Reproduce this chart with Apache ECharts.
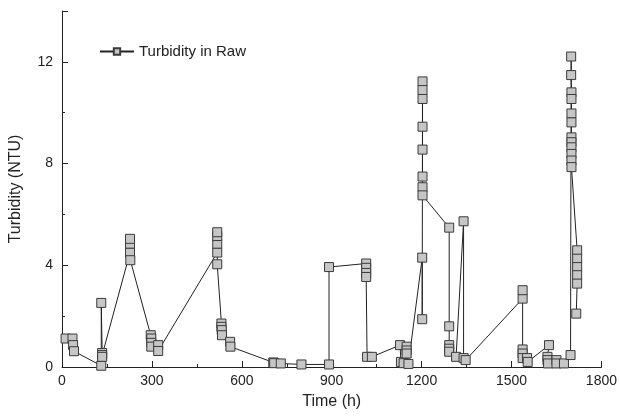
<!DOCTYPE html>
<html>
<head>
<meta charset="utf-8">
<script src="https://cdn.jsdelivr.net/npm/echarts@6/dist/echarts.min.js"></script>
<style>
  html, body { margin: 0; padding: 0; background: #fff; }
  #main { width: 620px; height: 418px; }
</style>
</head>
<body>
<div id="main"></div>
<script>
// time (h) and turbidity (NTU), in measurement order
var hours = [
  12, 35, 37, 40, 131, 131, 134, 134, 134,
  227, 227, 227, 228,
  296, 298, 298, 298, 321, 321,
  518, 518, 518, 518, 518,
  532, 532, 533, 534, 561, 562,
  705, 708, 730, 799, 891, 891,
  1015, 1015, 1015, 1015, 1018, 1034,
  1128, 1131, 1140, 1150, 1150, 1150, 1156,
  1202, 1202, 1203, 1203, 1203, 1203, 1203, 1203, 1203, 1203,
  1292, 1292, 1292, 1292, 1292, 1315, 1340, 1340, 1347,
  1537, 1537, 1537, 1537, 1537, 1552, 1554,
  1625, 1620, 1620, 1622, 1650, 1650, 1675, 1697,
  1699, 1699, 1700, 1700, 1700, 1700, 1700, 1700, 1700, 1700, 1700, 1700,
  1719, 1719, 1719, 1719, 1719, 1716
];
var turbidity = [
  1.12, 1.12, 0.86, 0.62, 0.05, 2.52, 0.55, 0.47, 0.40,
  4.50, 4.85, 5.04, 4.20,
  1.25, 1.12, 0.95, 0.80, 0.86, 0.63,
  4.50, 4.85, 5.15, 5.30, 4.04,
  1.71, 1.58, 1.45, 1.25, 0.99, 0.80,
  0.18, 0.15, 0.14, 0.10, 0.10, 3.93,
  4.07, 3.90, 3.70, 3.54, 0.40, 0.40,
  0.86, 0.20, 0.15, 0.80, 0.65, 0.53, 0.12,
  4.30, 1.88, 11.23, 10.89, 10.54, 9.45, 8.55, 7.49, 7.07, 6.75,
  5.48, 1.60, 0.86, 0.72, 0.60, 0.40, 5.73, 0.35, 0.27,
  2.69, 3.02, 0.69, 0.53, 0.35, 0.35, 0.20,
  0.86, 0.40, 0.27, 0.14, 0.27, 0.14, 0.14, 0.47,
  12.21, 11.48, 10.80, 10.54, 9.97, 9.62, 9.03, 8.84, 8.64, 8.38, 8.12, 7.86,
  4.59, 4.26, 3.93, 3.61, 3.28, 2.10
];
var seriesName = 'Turbidity in Raw';
var yLabels = [0, 4, 8, 12];

var points = [];
for (var i = 0; i < hours.length; i++) {
  points.push([hours[i], turbidity[i]]);
}

var myChart = echarts.init(document.getElementById('main'));
var font = 'Liberation Sans, Arial, sans-serif';

var option = {
  animation: false,
  backgroundColor: '#fff',
  textStyle: { fontFamily: font },
  grid: { left: 62, right: 12, top: 11, bottom: 51 },
  legend: {
    left: 94,
    top: 39,
    itemWidth: 34,
    itemHeight: 8,
    itemGap: 4,
    textStyle: { fontSize: 15, color: '#222', fontFamily: font },
    data: [seriesName]
  },
  xAxis: {
    type: 'value',
    min: 0,
    max: 1800,
    interval: 300,
    name: 'Time (h)',
    nameLocation: 'middle',
    nameGap: 27,
    nameTextStyle: { fontSize: 16, color: '#222', fontFamily: font },
    axisLine: { onZero: false, lineStyle: { color: '#222', width: 1 } },
    axisTick: { inside: true, length: 6, lineStyle: { color: '#222' } },
    minorTick: { show: true, splitNumber: 2, length: 3, lineStyle: { color: '#222' } },
    axisLabel: {
      fontSize: 14, color: '#222', margin: 7, fontFamily: font,
      formatter: function (v) { return String(v); }
    },
    splitLine: { show: false }
  },
  yAxis: {
    type: 'value',
    min: 0,
    max: 14,
    interval: 4,
    name: 'Turbidity (NTU)',
    nameLocation: 'middle',
    nameGap: 38,
    nameTextStyle: { fontSize: 16, color: '#222', fontFamily: font },
    axisLine: { show: true, lineStyle: { color: '#222', width: 1 } },
    axisTick: { inside: true, length: 6, lineStyle: { color: '#222' } },
    minorTick: { show: true, splitNumber: 2, length: 3, lineStyle: { color: '#222' } },
    axisLabel: {
      fontSize: 14, color: '#222', margin: 9, fontFamily: font,
      formatter: function (v) { return yLabels.indexOf(v) >= 0 ? String(v) : ''; }
    },
    splitLine: { show: false }
  },
  series: [{
    name: seriesName,
    type: 'line',
    data: points,
    symbol: 'rect',
    symbolSize: 9,
    showAllSymbol: true,
    lineStyle: { color: '#222', width: 1 },
    itemStyle: { color: '#c6c6c6', borderColor: '#3a3a3a', borderWidth: 1 }
  }]
};
myChart.setOption(option);
</script>
</body>
</html>
